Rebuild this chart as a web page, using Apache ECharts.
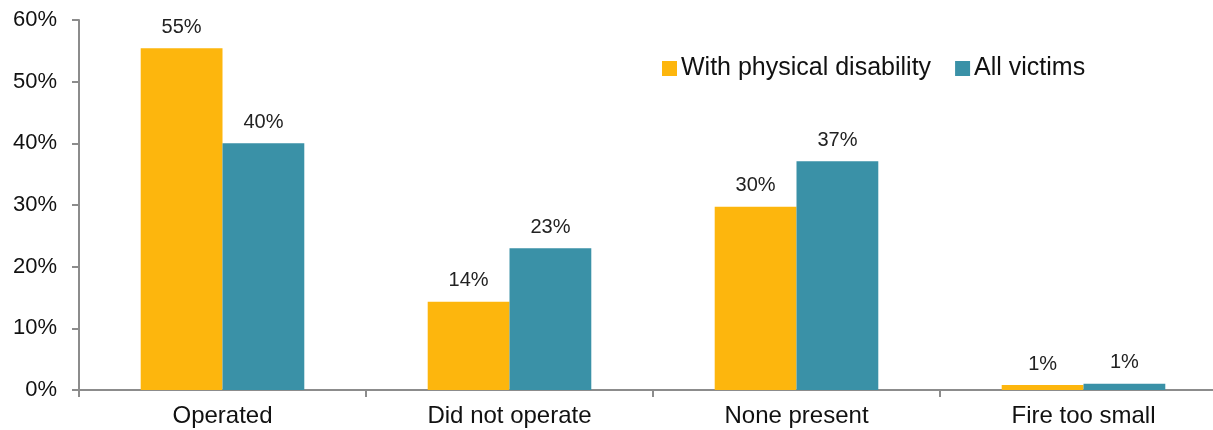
<!DOCTYPE html>
<html><head><meta charset="utf-8">
<script src="https://cdn.jsdelivr.net/npm/echarts@6/dist/echarts.min.js"></script>
<style>html,body{margin:0;padding:0;background:#fff;overflow:hidden}#c{width:1227px;height:430px}</style>
</head><body><div id="c"></div>
<script>
var categories = ["Operated", "Did not operate", "None present", "Fire too small"];
var disabilityValues = [55.4, 14.3, 29.7, 0.8];
var allVictimsValues = [40.0, 23.0, 37.1, 1.0];
var disabilityLabels = ["55%", "14%", "30%", "1%"];
var allVictimsLabels = ["40%", "23%", "37%", "1%"];
var seriesNames = ["With physical disability", "All victims"];
var yTicks = [0, 10, 20, 30, 40, 50, 60];

var FONT = "Liberation Sans, Arial, sans-serif";
var chart = echarts.init(document.getElementById('c'));
function mkLabel(labels){
  return {show:true, position:'top', distance:11, fontFamily:FONT, fontSize:20, color:'#222',
    formatter:function(p){return labels[p.dataIndex];}};
}
chart.setOption({
  animation:false,
  textStyle:{fontFamily:FONT},
  legend:{
    data:seriesNames, left:657, top:51, itemWidth:15, itemHeight:15, itemGap:24,
    icon:'rect', textStyle:{fontFamily:FONT, fontSize:25, color:'#111', padding:[0,0,0,-1]}
  },
  grid:{left:79, right:0, top:20, height:370, containLabel:false},
  xAxis:{
    type:'category', data:categories,
    axisLine:{lineStyle:{color:'#8c8c8c', width:2}},
    axisTick:{show:true, length:7, lineStyle:{color:'#8c8c8c', width:2}},
    axisLabel:{fontFamily:FONT, fontSize:24, color:'#111', margin:14}
  },
  yAxis:{
    type:'value', min:0, max:60, interval:10,
    axisLine:{show:true, lineStyle:{color:'#8c8c8c', width:2}},
    axisTick:{show:true, length:7, lineStyle:{color:'#8c8c8c', width:2}},
    splitLine:{show:false},
    axisLabel:{fontFamily:FONT, fontSize:22, color:'#111', margin:22,
      formatter:function(v){return v + '%';}}
  },
  series:[
    {name:seriesNames[0], type:'bar', data:disabilityValues, itemStyle:{color:'#FDB60D'},
     barGap:'0%', barCategoryGap:'43%', label:mkLabel(disabilityLabels)},
    {name:seriesNames[1], type:'bar', data:allVictimsValues, itemStyle:{color:'#3A91A7'},
     barGap:'0%', barCategoryGap:'43%', label:mkLabel(allVictimsLabels)}
  ]
});
</script></body></html>
